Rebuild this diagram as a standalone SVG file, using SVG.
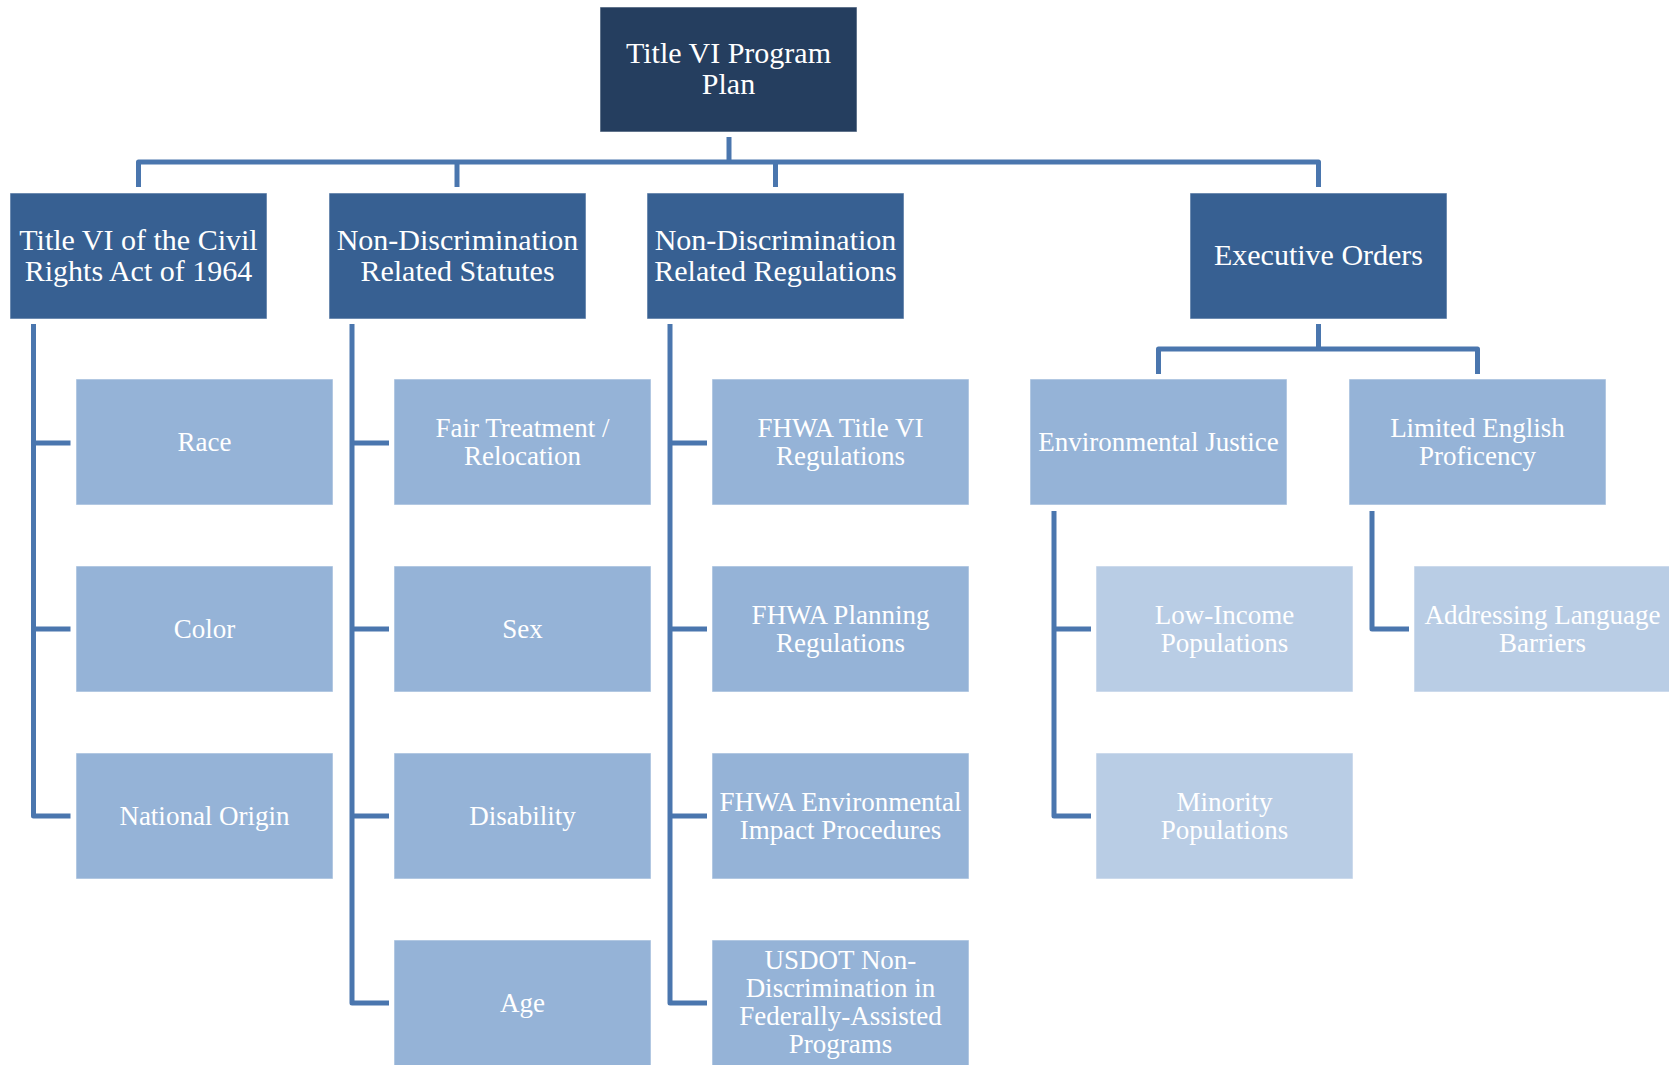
<svg xmlns="http://www.w3.org/2000/svg" width="1669" height="1065" viewBox="0 0 1669 1065">
<style>
rect{stroke:#ffffff;stroke-opacity:0.55;stroke-width:1}
.r0{fill:#253E5F}
.r1{fill:#376092}
.r2{fill:#95B3D7}
.r3{fill:#B9CDE5}
text{font-family:"Liberation Serif","Times New Roman",serif;fill:#ffffff;text-anchor:middle}
.f1{font-size:30px}
.f2{font-size:27px}
.c path{fill:none;stroke:#4A76AE;stroke-width:5;stroke-linejoin:round;stroke-linecap:butt}
</style>
<rect width="1669" height="1065" fill="#ffffff" stroke="none"/>
<g class="c" id="connectors">
<path d="M729 137V162"/>
<path d="M138.5 187V162H1318.5V187"/>
<path d="M457 162V187"/>
<path d="M775.5 162V187"/>
<path d="M33.5 324V816H70.5"/>
<path d="M33.5 443H70.5M33.5 629H70.5"/>
<path d="M352 324V1003H389"/>
<path d="M352 443H389M352 629H389M352 816H389"/>
<path d="M670 324V1003H707"/>
<path d="M670 443H707M670 629H707M670 816H707"/>
<path d="M1318.5 324V349"/>
<path d="M1158.5 374V349H1477.5V374"/>
<path d="M1054 511V816H1091"/>
<path d="M1054 629H1091"/>
<path d="M1372 511V629H1409"/>
</g>
<g id="n-root"><rect class="r0" x="600" y="7" width="257" height="125"/><text class="f1" x="728.5" y="63">Title VI Program</text><text class="f1" x="728.5" y="94">Plan</text></g>
<g id="n-t6"><rect class="r1" x="10" y="193" width="257" height="126"/><text class="f1" x="138.5" y="249.5">Title VI of the Civil</text><text class="f1" x="138.5" y="280.5">Rights Act of 1964</text></g>
<g id="n-nds"><rect class="r1" x="329" y="193" width="257" height="126"/><text class="f1" x="457.5" y="249.5">Non-Discrimination</text><text class="f1" x="457.5" y="280.5">Related Statutes</text></g>
<g id="n-ndr"><rect class="r1" x="647" y="193" width="257" height="126"/><text class="f1" x="775.5" y="249.5">Non-Discrimination</text><text class="f1" x="775.5" y="280.5">Related Regulations</text></g>
<g id="n-eo"><rect class="r1" x="1190" y="193" width="257" height="126"/><text class="f1" x="1318.5" y="265">Executive Orders</text></g>
<g id="n-race"><rect class="r2" x="76" y="379" width="257" height="126"/><text class="f2" x="204.5" y="451">Race</text></g>
<g id="n-color"><rect class="r2" x="76" y="566" width="257" height="126"/><text class="f2" x="204.5" y="638">Color</text></g>
<g id="n-nat"><rect class="r2" x="76" y="753" width="257" height="126"/><text class="f2" x="204.5" y="825">National Origin</text></g>
<g id="n-fair"><rect class="r2" x="394" y="379" width="257" height="126"/><text class="f2" x="522.5" y="437">Fair Treatment /</text><text class="f2" x="522.5" y="465">Relocation</text></g>
<g id="n-sex"><rect class="r2" x="394" y="566" width="257" height="126"/><text class="f2" x="522.5" y="638">Sex</text></g>
<g id="n-dis"><rect class="r2" x="394" y="753" width="257" height="126"/><text class="f2" x="522.5" y="825">Disability</text></g>
<g id="n-age"><rect class="r2" x="394" y="940" width="257" height="126"/><text class="f2" x="522.5" y="1012">Age</text></g>
<g id="n-fhwa6"><rect class="r2" x="712" y="379" width="257" height="126"/><text class="f2" x="840.5" y="437">FHWA Title VI</text><text class="f2" x="840.5" y="465">Regulations</text></g>
<g id="n-fhwap"><rect class="r2" x="712" y="566" width="257" height="126"/><text class="f2" x="840.5" y="624">FHWA Planning</text><text class="f2" x="840.5" y="652">Regulations</text></g>
<g id="n-fhwae"><rect class="r2" x="712" y="753" width="257" height="126"/><text class="f2" x="840.5" y="811">FHWA Environmental</text><text class="f2" x="840.5" y="839">Impact Procedures</text></g>
<g id="n-usdot"><rect class="r2" x="712" y="940" width="257" height="126"/><text class="f2" x="840.5" y="969">USDOT Non-</text><text class="f2" x="840.5" y="997">Discrimination in</text><text class="f2" x="840.5" y="1025">Federally-Assisted</text><text class="f2" x="840.5" y="1053">Programs</text></g>
<g id="n-ej"><rect class="r2" x="1030" y="379" width="257" height="126"/><text class="f2" x="1158.5" y="451">Environmental Justice</text></g>
<g id="n-lep"><rect class="r2" x="1349" y="379" width="257" height="126"/><text class="f2" x="1477.5" y="437">Limited English</text><text class="f2" x="1477.5" y="465">Proficency</text></g>
<g id="n-low"><rect class="r3" x="1096" y="566" width="257" height="126"/><text class="f2" x="1224.5" y="624">Low-Income</text><text class="f2" x="1224.5" y="652">Populations</text></g>
<g id="n-min"><rect class="r3" x="1096" y="753" width="257" height="126"/><text class="f2" x="1224.5" y="811">Minority</text><text class="f2" x="1224.5" y="839">Populations</text></g>
<g id="n-lang"><rect class="r3" x="1414" y="566" width="257" height="126"/><text class="f2" x="1542.5" y="624">Addressing Language</text><text class="f2" x="1542.5" y="652">Barriers</text></g>
</svg>
